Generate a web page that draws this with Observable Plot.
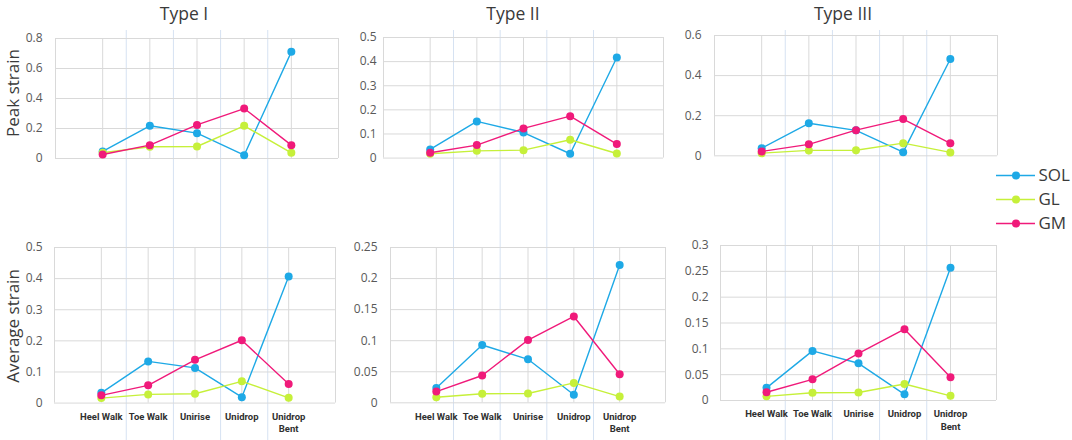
<!DOCTYPE html>
<html><head><meta charset="utf-8">
<script src="https://cdn.jsdelivr.net/npm/d3@7"></script>
<script src="https://cdn.jsdelivr.net/npm/@observablehq/plot@0.6"></script>
<style>
body{margin:0;background:#fff}
#fig{position:relative;width:1072px;height:440px;font-family:"Open Sans",sans-serif;overflow:hidden}
.abs{position:absolute}
.title{font-size:17.5px;color:#3a3a3a;white-space:nowrap;transform:translate(-50%,-50%)}
.ytitle{font-size:17px;color:#3a3a3a;white-space:nowrap;transform:translate(-50%,-50%) rotate(-90deg)}
</style>
</head><body><div id="fig"></div>
<script>
// ---- data ----
const tasks = ["Heel Walk","Toe Walk","Unirise","Unidrop","Unidrop\nBent"];
const muscles = ["SOL","GL","GM"];
const types = ["Type I","Type II","Type III"];
const rowTitles = ["Peak strain","Average strain"];

const peakI_SOL = [0.047,0.218,0.169,0.022,0.711];
const peakI_GL  = [0.038,0.078,0.080,0.218,0.038];
const peakI_GM  = [0.027,0.089,0.224,0.333,0.089];
const peakII_SOL = [0.036,0.152,0.106,0.018,0.417];
const peakII_GL  = [0.018,0.030,0.033,0.076,0.019];
const peakII_GM  = [0.022,0.054,0.123,0.174,0.058];
const peakIII_SOL = [0.038,0.162,0.127,0.018,0.483];
const peakIII_GL  = [0.013,0.027,0.028,0.063,0.017];
const peakIII_GM  = [0.022,0.057,0.128,0.183,0.062];
const avgI_SOL = [0.033,0.134,0.113,0.019,0.407];
const avgI_GL  = [0.016,0.028,0.030,0.070,0.017];
const avgI_GM  = [0.025,0.057,0.139,0.202,0.061];
const avgII_SOL = [0.024,0.093,0.070,0.013,0.222];
const avgII_GL  = [0.009,0.0145,0.015,0.032,0.010];
const avgII_GM  = [0.018,0.044,0.101,0.139,0.046];
const avgIII_SOL = [0.0245,0.096,0.072,0.012,0.257];
const avgIII_GL  = [0.008,0.015,0.0155,0.032,0.009];
const avgIII_GM  = [0.016,0.041,0.091,0.138,0.045];

const peakMax = [0.8,0.5,0.6];
const peakStep = [0.2,0.1,0.2];
const avgMax = [0.5,0.25,0.3];
const avgStep = [0.1,0.05,0.05];
const sheetLines = [1.5,2.5,3.5,4.5];

// ---- styles / layout ----
const colors = ["#1ea9e6","#c6f03a","#f01a7a"];
const gridColor = "#d9d9d9";
const frames = [
  [{x0:55,x1:338,y0:37.7,y1:157.7},{x0:383,x1:663,y0:36.7,y1:157.3},{x0:714,x1:997,y0:35,y1:155.3}],
  [{x0:54,x1:335,y0:246.7,y1:402.3},{x0:390,x1:665,y0:246.7,y1:402},{x0:720,x1:996,y0:245,y1:400}]
];
const tickPad = [[13,7,13],[12,13,12]];
const series = [
  [[peakI_SOL,peakI_GL,peakI_GM],[peakII_SOL,peakII_GL,peakII_GM],[peakIII_SOL,peakIII_GL,peakIII_GM]],
  [[avgI_SOL,avgI_GL,avgI_GM],[avgII_SOL,avgII_GL,avgII_GM],[avgIII_SOL,avgIII_GL,avgIII_GM]]
];
const maxes = [peakMax, avgMax], steps = [peakStep, avgStep];

const fig = document.getElementById("fig");
function place(el, left, top){ el.classList.add("abs"); el.style.left = left+"px"; el.style.top = top+"px"; fig.appendChild(el); return el; }

// spreadsheet cell borders (behind)
for (let c=0;c<3;c++){
  const f = frames[0][c];
  const bg = Plot.plot({
    width: f.x1-f.x0, height: 410, marginLeft:0, marginRight:0, marginTop:0, marginBottom:0,
    x:{domain:[0,6], axis:null}, y:{domain:[0,1], axis:null},
    style:{background:"transparent", overflow:"visible"},
    marks:[Plot.ruleX(sheetLines, {stroke:"#d6e2f2", strokeWidth:1})]
  });
  place(bg, f.x0, 30);
}

function panel(r, c){
  const f = frames[r][c], ymax = maxes[r][c], step = steps[r][c];
  const withX = r===1;
  const mL=50, mR=10, mT=12, mB= withX?42:10;
  const ticks = d3.range(0, ymax+step/2, step).map(v=>+v.toFixed(3));
  const rows = muscles.flatMap((m,k)=>series[r][c][k].map((v,i)=>({t:i+1, v, m})));
  const marks = [
    Plot.ruleY(ticks, {stroke:gridColor, strokeWidth:1}),
    Plot.ruleX([0,1,2,3,4,5,6], {stroke:gridColor, strokeWidth:1}),
    Plot.axisY(ticks, {label:null, tickSize:0, tickPadding:tickPad[r][c], fontSize:12, color:"#595959", tickFormat:d=>String(d), fontFamily:"Open Sans"})
  ];
  muscles.forEach(m=>{
    const d = rows.filter(x=>x.m===m);
    marks.push(Plot.line(d, {x:"t", y:"v", stroke:"m", strokeWidth:1.4}));
    marks.push(Plot.dot(d, {x:"t", y:"v", fill:"m", r:4}));
  });
  if (withX) marks.push(Plot.axisX([1,2,3,4,5], {label:null, tickSize:0, tickPadding:8, tickFormat:i=>tasks[i-1], fontSize:9.5, fontWeight:"bold", lineHeight:1.3, color:"#303030", fontFamily:"Roboto"}));
  const p = Plot.plot({
    width: f.x1-f.x0+mL+mR, height: f.y1-f.y0+mT+mB,
    marginLeft:mL, marginRight:mR, marginTop:mT, marginBottom:mB,
    x:{domain:[0,6], axis:null}, y:{domain:[0,ymax], axis:null},
    color:{domain:muscles, range:colors},
    style:{background:"transparent", overflow:"visible", fontFamily:"Open Sans"},
    marks
  });
  place(p, f.x0-mL, f.y0-mT);
}
for (let r=0;r<2;r++) for (let c=0;c<3;c++) panel(r,c);

// titles
const titleX = [184,513,843];
types.forEach((t,i)=>{ const d=document.createElement("div"); d.className="title"; d.textContent=t; place(d, titleX[i], 13); });
const ytY = [93,326];
rowTitles.forEach((t,i)=>{ const d=document.createElement("div"); d.className="ytitle"; d.textContent=t; place(d, 12, ytY[i]); });

// legend
const legend = Plot.plot({
  width: 82, height: 72, marginLeft:6, marginRight:37, marginTop:0, marginBottom:0,
  x:{domain:[0,1], axis:null},
  y:{type:"point", domain:muscles, range:[12,60], padding:0, axis:null},
  color:{domain:muscles, range:colors},
  style:{background:"transparent", overflow:"visible", fontFamily:"Open Sans"},
  marks:[
    Plot.ruleY(muscles, {y:d=>d, x1:0, x2:1, stroke:d=>d, strokeWidth:1.4}),
    Plot.dot(muscles, {x:0.5, y:d=>d, fill:d=>d, r:4}),
    Plot.text(muscles, {x:1, y:d=>d, text:d=>d, dx:3, textAnchor:"start", fontSize:17, fill:"#3a3a3a"})
  ]
});
place(legend, 990, 163);
</script>
</body></html>
